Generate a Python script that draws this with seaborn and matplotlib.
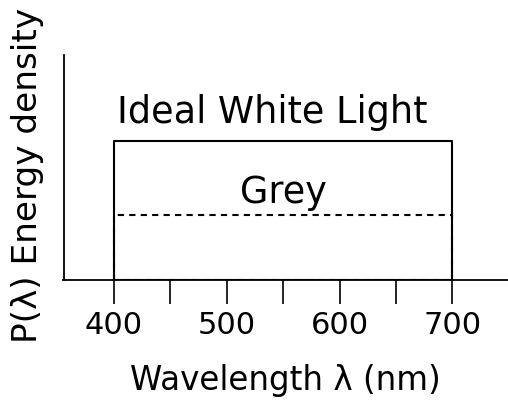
import matplotlib
matplotlib.use("Agg")
import matplotlib.pyplot as plt
import seaborn as sns
import pandas as pd

# Spectral band covered by the illuminants (nm)
band_start = 400
band_end = 700

# Relative energy density of each illuminant
levels = {"Ideal White Light": 1.0, "Grey": 0.47}
line_styles = {"Ideal White Light": "-", "Grey": (0, (3.0, 2.5))}

major_ticks = [400, 500, 600, 700]
minor_ticks = [450, 550, 650]

sns.set_theme(style="ticks")
plt.rcParams["font.family"] = ["DejaVu Sans"]

fig = plt.figure(figsize=(5.08, 4.01), dpi=100)
ax = fig.add_axes([0.125, 0.3017, 0.875, 0.561])

rows = []
for name, lvl in levels.items():
    xs = [band_start, band_start, band_end, band_end, band_start]
    ys = [0, lvl, lvl, 0, 0]
    for i, (x, y) in enumerate(zip(xs, ys)):
        rows.append({"illuminant": name, "order": i, "wavelength": x, "energy": y})
df = pd.DataFrame(rows)

for name in levels:
    sub = df[df["illuminant"] == name]
    sns.lineplot(data=sub, x="wavelength", y="energy", sort=False, estimator=None,
                 color="black", lw=1.5, linestyle=line_styles[name], ax=ax)

mid = (band_start + band_end) / 2
ax.text(mid - 9.5, levels["Ideal White Light"] + 0.127, "Ideal White Light",
        ha="center", va="baseline", fontsize=26.4, color="black")
ax.text(mid, levels["Grey"] + 0.083, "Grey",
        ha="center", va="baseline", fontsize=26.4, color="black")

ax.set_xlim(355.2, 749.4)
ax.set_ylim(0, 1.615)
ax.set_xticks(major_ticks)
ax.set_xticks(minor_ticks, minor=True)
ax.set_xticklabels([str(t) for t in major_ticks])
ax.set_yticks([])
ax.tick_params(axis="x", which="both", direction="out", length=17.3, width=1.2,
               color="black", labelcolor="black", labelsize=22, pad=5)

for side in ("top", "right"):
    ax.spines[side].set_visible(False)
for side in ("left", "bottom"):
    ax.spines[side].set_color("black")
    ax.spines[side].set_linewidth(1.3)

ax.set_xlabel("Wavelength λ (nm)", fontsize=23.5, labelpad=17, color="black")
ax.set_ylabel("P(λ) Energy density", fontsize=24.7, color="black", va="center")
ax.yaxis.set_label_coords(-0.081, 0.467)

fig.savefig("out.png", dpi=100, facecolor="white")
